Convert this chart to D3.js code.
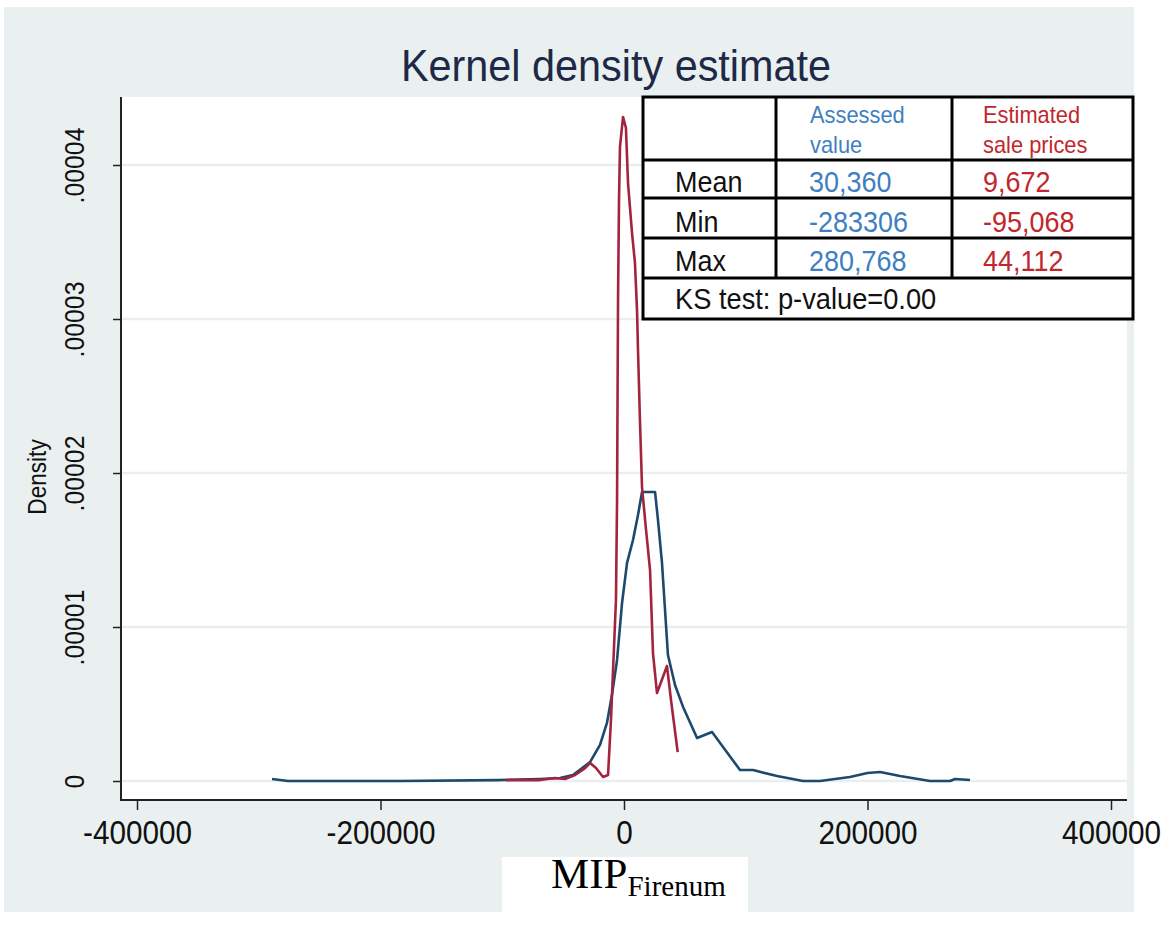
<!DOCTYPE html>
<html><head><meta charset="utf-8">
<script src="https://cdn.jsdelivr.net/npm/d3@7"></script>
<style>body{margin:0;background:#fff}</style>
</head><body>
<svg id="c" width="1165" height="925"></svg>
<script>
// ---- data ----
const titleText = "Kernel density estimate";
const yAxisTitle = "Density";
const xTicks = [-400000, -200000, 0, 200000, 400000];
const xTickLabels = ["-400000", "-200000", "0", "200000", "400000"];
const yTicks = [0, 0.00001, 0.00002, 0.00003, 0.00004];
const yTickLabels = ["0", ".00001", ".00002", ".00003", ".00004"];

// Assessed value (blue)
const assessedX = [-289100,-276000,-184000,-104300,-69000,-52600,-41900,-27900,-19700,-14000,-9900,-5700,-1600,2500,7400,11500,14800,25500,27900,31200,36100,41900,48500,60000,72300,95300,106000,125700,147000,161000,185600,200000,210300,226700,251300,267800,271900,284200];
const assessedY = [1.3e-7,0,0,6e-8,1.3e-7,1.9e-7,3.9e-7,1.23e-6,2.34e-6,3.77e-6,5.58e-6,7.86e-6,1.156e-5,1.416e-5,1.565e-5,1.727e-5,1.877e-5,1.877e-5,1.695e-5,1.416e-5,8.18e-6,6.23e-6,4.81e-6,2.79e-6,3.18e-6,7.1e-7,7.1e-7,3.2e-7,0,0,2.6e-7,5.2e-7,5.8e-7,3.2e-7,0,0,1.3e-7,6e-8];

// Estimated sale prices (red)
const estimatedX = [-97000,-69000,-56700,-48500,-40200,-32000,-27900,-23000,-17200,-13100,-10700,-9000,-6600,-5700,-4900,-4100,-3300,-800,1600,3300,6600,9000,10700,11500,13100,14800,18100,21400,23800,27100,35300,38600,44112];
const estimatedY = [6e-8,6e-8,1.9e-7,1.3e-7,3.9e-7,8.4e-7,1.17e-6,8.4e-7,2.6e-7,3.9e-7,3.96e-6,7.21e-6,1.175e-5,1.825e-5,3.123e-5,3.773e-5,4.117e-5,4.312e-5,4.24e-5,3.883e-5,3.558e-5,3.364e-5,3.058e-5,2.799e-5,2.344e-5,1.909e-5,1.63e-5,1.37e-5,8.31e-6,5.71e-6,7.47e-6,5.26e-6,1.88e-6];

// summary table
const tableColHeads = [["Assessed","value"],["Estimated","sale prices"]];
const tableRowLabels = ["Mean","Min","Max"];
const assessedStats = ["30,360","-283306","280,768"];
const estimatedStats = ["9,672","-95,068","44,112"];
const ksText = "KS test: p-value=0.00";
const xLabelMain = "MIP", xLabelSub = "Firenum";

// ---- styles ----
const SANS = "'Liberation Sans', Arial, sans-serif";
const SERIF = "'Liberation Serif', 'Times New Roman', serif";
const BLUE_LINE = "#1d4a6c", RED_LINE = "#a3243f";
const BLUE_TXT = "#3f7fbf", RED_TXT = "#c1272d";

const svg = d3.select("#c");
svg.append("rect").attr("x",4).attr("y",7).attr("width",1130).attr("height",905).attr("fill","#e9f0ef");

const plot = {left:121, right:1127, top:97, bottom:800};
svg.append("rect").attr("x",plot.left).attr("y",plot.top)
  .attr("width",plot.right-plot.left).attr("height",plot.bottom-plot.top).attr("fill","#ffffff");

const x = d3.scaleLinear().domain([-400000,400000]).range([137,1111]);
const y = d3.scaleLinear().domain([0,0.00004]).range([781,165]);

// gridlines
svg.append("g").selectAll("line").data(yTicks).join("line")
  .attr("x1",plot.left+1).attr("x2",plot.right)
  .attr("y1",d=>y(d)).attr("y2",d=>y(d))
  .attr("stroke","#ebeeee").attr("stroke-width",2.5);

// curves
const line = d3.line().x(d=>x(d[0])).y(d=>y(d[1]));
svg.append("path").datum(assessedX.map((v,i)=>[v,assessedY[i]]))
  .attr("d",line).attr("fill","none").attr("stroke",BLUE_LINE).attr("stroke-width",2.6).attr("stroke-linejoin","round");
svg.append("path").datum(estimatedX.map((v,i)=>[v,estimatedY[i]]))
  .attr("d",line).attr("fill","none").attr("stroke",RED_LINE).attr("stroke-width",2.6).attr("stroke-linejoin","round");

// axes
const yAxis = d3.axisLeft(y).tickValues(yTicks).tickSize(8).tickSizeOuter(0)
  .tickFormat((d,i)=>yTickLabels[i]);
const gy = svg.append("g").attr("transform",`translate(${plot.left},0)`).call(yAxis);
gy.select(".domain").remove();
gy.selectAll(".tick line").attr("stroke","#222").attr("stroke-width",1.5);
gy.selectAll(".tick text").attr("transform","translate(-37,0) rotate(-90) scale(0.92,1)")
  .attr("x",0).attr("y",0).attr("dy",0).attr("text-anchor","middle")
  .attr("font-family",SANS).attr("font-size",27).attr("fill","#111");

const xAxis = d3.axisBottom(x).tickValues(xTicks).tickSize(10).tickSizeOuter(0)
  .tickFormat((d,i)=>xTickLabels[i]);
const gx = svg.append("g").attr("transform",`translate(0,${plot.bottom})`).call(xAxis);
gx.select(".domain").remove();
gx.selectAll(".tick line").attr("stroke","#222").attr("stroke-width",1.5);
gx.selectAll(".tick text").attr("y",0).attr("dy",0).attr("transform","translate(0,44) scale(0.9,1)")
  .attr("font-family",SANS).attr("font-size",33).attr("fill","#111");

svg.append("line").attr("x1",plot.left).attr("x2",plot.left).attr("y1",plot.top).attr("y2",plot.bottom+1)
  .attr("stroke","#222").attr("stroke-width",2);
svg.append("line").attr("x1",plot.left).attr("x2",plot.right).attr("y1",plot.bottom).attr("y2",plot.bottom)
  .attr("stroke","#222").attr("stroke-width",2);

// titles
svg.append("text").attr("transform","translate(616,81) scale(0.92,1)").attr("text-anchor","middle")
  .attr("font-family",SANS).attr("font-size",45).attr("fill","#1e2947").text(titleText);
svg.append("text").attr("transform","translate(46,477) rotate(-90) scale(0.87,1)").attr("text-anchor","middle")
  .attr("font-family",SANS).attr("font-size",26).attr("fill","#111").text(yAxisTitle);

// x label box
svg.append("rect").attr("x",502).attr("y",857).attr("width",246).attr("height",55).attr("fill","#fff");
const xl = svg.append("text").attr("x",551).attr("y",888).attr("font-family",SERIF).attr("fill","#000");
xl.append("tspan").attr("font-size",43).text(xLabelMain);
xl.append("tspan").attr("font-size",29).attr("dy",8).text(xLabelSub);

// table
const colX = [643, 776, 952, 1133];
const rowY = [97, 160, 198, 238, 278, 319];
const tb = svg.append("g");
tb.append("rect").attr("x",colX[0]).attr("y",rowY[0]).attr("width",colX[3]-colX[0]).attr("height",rowY[5]-rowY[0])
  .attr("fill","#fff").attr("stroke","#000").attr("stroke-width",3);
tb.selectAll("line.h").data(rowY.slice(1,5)).join("line").attr("class","h")
  .attr("x1",colX[0]).attr("x2",colX[3]).attr("y1",d=>d).attr("y2",d=>d)
  .attr("stroke","#000").attr("stroke-width",3);
tb.selectAll("line.v").data(colX.slice(1,3)).join("line").attr("class","v")
  .attr("x1",d=>d).attr("x2",d=>d).attr("y1",rowY[0]).attr("y2",rowY[4])
  .attr("stroke","#000").attr("stroke-width",3);

function cellText(tx, ty, s, size, col, sx){
  tb.append("text").attr("transform",`translate(${tx},${ty}) scale(${sx},1)`)
    .attr("font-family",SANS).attr("font-size",size).attr("fill",col).text(s);
}
tableColHeads.forEach((h,ci)=>{
  const col = ci===0 ? BLUE_TXT : RED_TXT;
  const tx = ci===0 ? 810 : 983;
  h.forEach((s,li)=> cellText(tx, 123+li*30, s, 23, col, 0.95));
});
const rowBase = [192, 232, 271];
tableRowLabels.forEach((s,i)=>{
  cellText(675, rowBase[i], s, 29, "#111", 0.93);
  cellText(809, rowBase[i], assessedStats[i], 29, BLUE_TXT, 0.93);
  cellText(983, rowBase[i], estimatedStats[i], 29, RED_TXT, 0.93);
});
cellText(675, 309, ksText, 29, "#111", 0.94);
</script>
</body></html>
